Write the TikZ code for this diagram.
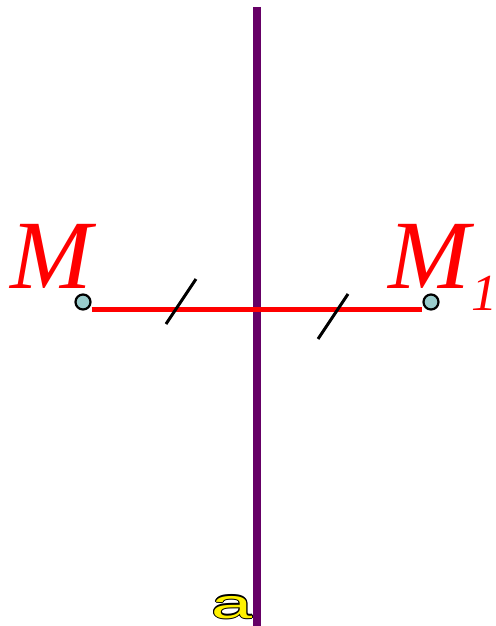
\documentclass[tikz,border=0pt]{standalone}
\usepackage{fontspec}
\setmainfont{Liberation Serif}
\newfontfamily\labelsans{Liberation Sans}
\usepackage{tikz}

\begin{document}
\begin{tikzpicture}[
    x=0.5pt, y=-0.5pt,
    axisline/.style={line width=4pt, draw={rgb,255:red,102;green,0;blue,102}},
    segline/.style={line width=2.8pt, draw=red},
    tickline/.style={line width=1.5pt, black},
    pt/.style={circle, draw=black, line width=1.1pt, fill={rgb,255:red,153;green,204;blue,204},
      minimum size=7.5pt, inner sep=0pt},
    mlabel/.style={text=red, inner sep=0pt, anchor=base, font=\fontsize{49}{49}\selectfont\itshape},
    sublabel/.style={text=red, inner sep=0pt, anchor=base west, font=\fontsize{26}{26}\selectfont\itshape},
    alabel/.style={inner sep=0pt, anchor=base, xscale=1.8, font=\labelsans\fontsize{20.5}{20.5}\selectfont},
  ]
    \useasboundingbox (0,0) rectangle (496,626);
    % axis label, outlined
    \foreach \dx/\dy in {-1.2/0, 1.2/0, 0/-1.2, 0/1.2, -0.9/-0.9, 0.9/0.9, -0.9/0.9, 0.9/-0.9}
      \node[alabel, text=black] at (232+\dx,618+\dy) {a};
    \node[alabel, text=yellow] (axlabel) at (232,618) {a};
    % axis
    \coordinate (top) at (257,7);
    \coordinate (bot) at (257,626);
    \draw[axisline] (top) -- (bot);
    % points
    \node[pt] (p) at (83,302) {};
    \node[pt] (q) at (431,302) {};
    \draw[segline] (p.east |- 0,309.5) -- (q.west |- 0,309.5);
    % equal marks
    \draw[tickline] (166,324) -- (196,279);
    \draw[tickline] (318,339) -- (348,294);
    % labels
    \node[mlabel] (M) at (51,288) {M};
    \node[mlabel] (M1) at (429,288) {M};
    \node[sublabel] (one) at (471,310) {1};
  \end{tikzpicture}
\end{document}
